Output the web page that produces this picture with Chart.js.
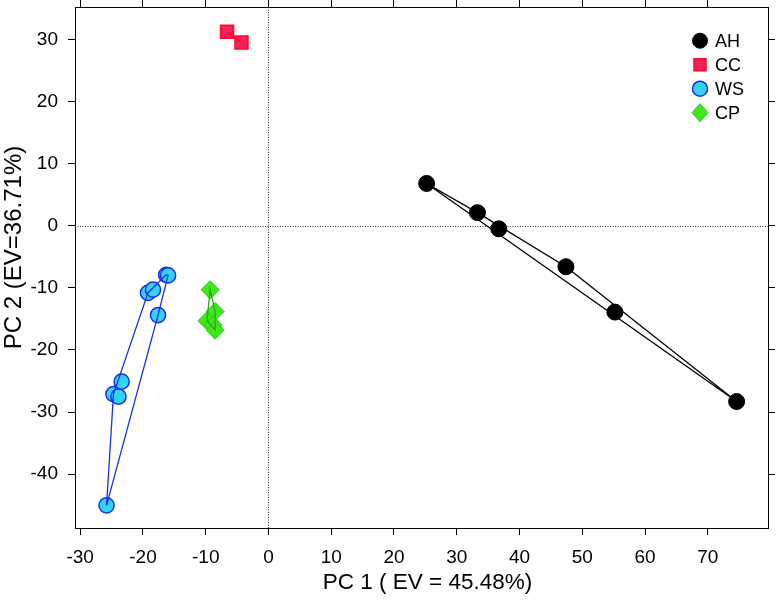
<!DOCTYPE html>
<html><head><meta charset="utf-8">
<script src="https://cdn.jsdelivr.net/npm/chart.js@4"></script>
<style>html,body{margin:0;padding:0;background:#fff}canvas{display:block}</style>
</head><body>
<canvas id="c" width="776" height="600"></canvas>
<script>
// ---- data ----
const seriesNames = ['AH', 'CC', 'WS', 'CP'];
const ahPC1 = [25.2, 33.3, 36.7, 47.4, 55.2, 74.6];
const ahPC2 = [6.8, 2.1, -0.5, -6.6, -13.9, -28.3];
const ccPC1 = [-6.6, -4.3];
const ccPC2 = [31.2, 29.5];
const wsPC1 = [-25.8, -24.7, -23.9, -23.4, -19.2, -18.4, -17.6, -16.3, -16.0];
const wsPC2 = [-45.0, -27.1, -27.5, -25.1, -10.8, -10.3, -14.4, -7.9, -8.0];
const cpPC1 = [-9.3, -8.5, -9.8, -8.8, -8.5];
const cpPC2 = [-10.3, -13.8, -15.3, -16.0, -16.8];
const xTickValues = [-30, -20, -10, 0, 10, 20, 30, 40, 50, 60, 70];
const yTickValues = [-40, -30, -20, -10, 0, 10, 20, 30];
const xTitle = 'PC 1 ( EV = 45.48%)';
const yTitle = 'PC 2 (EV=36.71%)';

// ---- styles ----
const FONT = '"Liberation Sans", Arial, Helvetica, sans-serif';
const styles = {
  AH: {fill: '#000000', stroke: '#000000', hull: '#000000', shape: 'circle', r: 8, bw: 1},
  CC: {fill: '#F5215A', stroke: '#FF0A2A', hull: '#FF0A2A', shape: 'rect', r: 9.2, bw: 1.5},
  WS: {fill: '#33D3F8', stroke: '#1A2FE8', hull: '#1A2FE8', shape: 'circle', r: 7.6, bw: 1.5},
  CP: {fill: '#3EE81C', stroke: '#2ACC10', hull: '#2AA810', shape: 'rectRot', r: 9, bw: 1}
};
const groups = {
  AH: [ahPC1, ahPC2], CC: [ccPC1, ccPC2], WS: [wsPC1, wsPC2], CP: [cpPC1, cpPC2]
};

function toPoints(xs, ys) { return xs.map((x, i) => ({x: x, y: ys[i]})); }
// convex hull (monotone chain) of a group's points, closed
function hull(pts) {
  const p = pts.slice().sort((a, b) => a.x - b.x || a.y - b.y);
  if (p.length < 3) return p.concat([p[0]]);
  const cross = (o, a, b) => (a.x - o.x) * (b.y - o.y) - (a.y - o.y) * (b.x - o.x);
  const lower = [], upper = [];
  for (const q of p) { while (lower.length >= 2 && cross(lower[lower.length - 2], lower[lower.length - 1], q) <= 0) lower.pop(); lower.push(q); }
  for (let i = p.length - 1; i >= 0; i--) { const q = p[i]; while (upper.length >= 2 && cross(upper[upper.length - 2], upper[upper.length - 1], q) <= 0) upper.pop(); upper.push(q); }
  upper.pop(); lower.pop();
  const h = lower.concat(upper);
  return h.concat([h[0]]);
}

const hullSets = seriesNames.map(n => ({
  label: n + ' hull',
  data: hull(toPoints(groups[n][0], groups[n][1])),
  showLine: true, fill: false, pointRadius: 0, pointHoverRadius: 0,
  borderColor: styles[n].hull, borderWidth: 1.3, tension: 0
}));
const pointSets = seriesNames.map(n => ({
  label: n,
  data: toPoints(groups[n][0], groups[n][1]),
  showLine: false,
  pointStyle: styles[n].shape, pointRadius: styles[n].r, pointHoverRadius: styles[n].r,
  backgroundColor: styles[n].fill, borderColor: styles[n].stroke, pointBorderWidth: styles[n].bw
}));

const zeroLines = {
  id: 'zeroLines',
  beforeDatasetsDraw(chart) {
    const {ctx, chartArea: a, scales: {x, y}} = chart;
    ctx.save();
    ctx.strokeStyle = '#333';
    ctx.lineWidth = 1;
    ctx.setLineDash([1, 1.5]);
    const px = Math.round(x.getPixelForValue(0)) + 0.5;
    const py = Math.round(y.getPixelForValue(0)) + 0.5;
    ctx.beginPath(); ctx.moveTo(px, a.top); ctx.lineTo(px, a.bottom); ctx.stroke();
    ctx.beginPath(); ctx.moveTo(a.left, py); ctx.lineTo(a.right, py); ctx.stroke();
    ctx.restore();
  }
};

// axis titles, drawn relative to the library's scales
const axisTitles = {
  id: 'axisTitles',
  afterDraw(chart) {
    const {ctx, scales: {x, y}} = chart;
    ctx.save();
    ctx.fillStyle = '#000';
    ctx.textAlign = 'center';
    ctx.textBaseline = 'middle';
    ctx.font = '22.5px ' + FONT;
    ctx.fillText(xTitle, (x.left + x.right) / 2 + 6, 583);
    ctx.translate(14, (y.top + y.bottom) / 2 - 20);
    ctx.rotate(-Math.PI / 2);
    ctx.font = '24px ' + FONT;
    ctx.fillText(yTitle, 0, 0);
    ctx.restore();
  }
};

const legendPlugin = {
  id: 'innerLegend',
  afterDraw(chart) {
    const ctx = chart.ctx;
    const mx = 700, tx = 715, y0 = 40.7, dy = 24;
    ctx.save();
    ctx.font = '18px ' + FONT;
    ctx.textBaseline = 'middle';
    ctx.textAlign = 'left';
    seriesNames.forEach((n, i) => {
      const s = styles[n];
      const cy = y0 + i * dy;
      ctx.fillStyle = s.fill; ctx.strokeStyle = s.stroke; ctx.lineWidth = s.bw;
      ctx.beginPath();
      if (s.shape === 'circle') { ctx.arc(mx, cy, 7.5, 0, Math.PI * 2); }
      else if (s.shape === 'rect') { ctx.rect(mx - 6, cy - 6, 12, 12); }
      else { ctx.moveTo(mx - 8, cy); ctx.lineTo(mx, cy - 9); ctx.lineTo(mx + 8, cy); ctx.lineTo(mx, cy + 9); ctx.closePath(); }
      ctx.fill(); ctx.stroke();
      ctx.fillStyle = '#000';
      ctx.fillText(n, tx, cy + 1);
    });
    ctx.restore();
  }
};

const X_MIN = -30.83, X_MAX = 79.6, Y_MIN = -48.65, Y_MAX = 35.2;
const gridBase = {drawOnChartArea: false, drawTicks: true, tickLength: 7, tickColor: '#000', tickWidth: 1};
const borderBase = {display: true, color: '#000', width: 1};
function noPad(s) { s.paddingTop = 0; s.paddingBottom = 0; s.paddingLeft = 0; s.paddingRight = 0; }

new Chart(document.getElementById('c'), {
  type: 'scatter',
  data: {datasets: hullSets.concat(pointSets)},
  plugins: [zeroLines, axisTitles, legendPlugin],
  options: {
    responsive: false, animation: false, devicePixelRatio: 1,
    layout: {padding: 0, autoPadding: false},
    plugins: {legend: {display: false}, tooltip: {enabled: false}},
    scales: {
      x: {
        type: 'linear', position: 'bottom', min: X_MIN, max: X_MAX,
        afterBuildTicks: s => { s.ticks = xTickValues.map(v => ({value: v})); },
        afterFit: s => { s.height = 72; noPad(s); },
        ticks: {color: '#000', font: {family: FONT, size: 19}, padding: 11, maxRotation: 0, autoSkip: false},
        grid: gridBase, border: borderBase
      },
      y: {
        type: 'linear', position: 'left', min: Y_MIN, max: Y_MAX,
        afterBuildTicks: s => { s.ticks = yTickValues.map(v => ({value: v})); },
        afterFit: s => { s.width = 75; noPad(s); },
        ticks: {color: '#000', font: {family: FONT, size: 19}, padding: 10, autoSkip: false},
        grid: gridBase, border: borderBase
      },
      x2: {
        type: 'linear', position: 'top', min: X_MIN, max: X_MAX,
        afterBuildTicks: s => { s.ticks = xTickValues.map(v => ({value: v})); },
        afterFit: s => { s.height = 7; noPad(s); },
        ticks: {display: false}, grid: gridBase, border: borderBase
      },
      y2: {
        type: 'linear', position: 'right', min: Y_MIN, max: Y_MAX,
        afterBuildTicks: s => { s.ticks = yTickValues.map(v => ({value: v})); },
        afterFit: s => { s.width = 8; noPad(s); },
        ticks: {display: false}, grid: gridBase, border: borderBase
      }
    }
  }
});
</script>
</body></html>
